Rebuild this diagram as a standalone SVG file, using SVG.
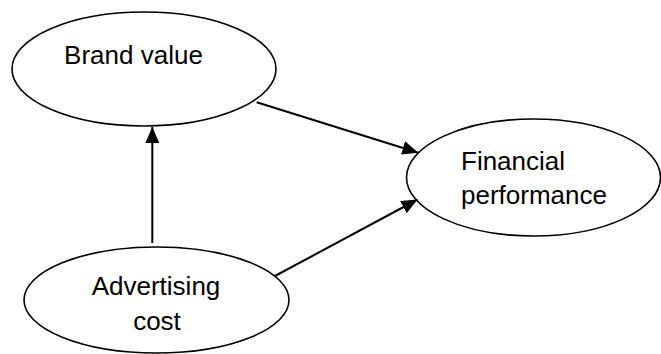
<svg xmlns="http://www.w3.org/2000/svg" width="661" height="354" viewBox="0 0 661 354">
  <defs>
    <marker id="arrow" markerUnits="userSpaceOnUse" markerWidth="17" markerHeight="15" refX="16" refY="7" orient="auto">
      <path d="M0,0 L16,7 L0,14 z" fill="#000"/>
    </marker>
    <style>
      .node ellipse { fill: #fff; stroke: #000; stroke-width: 1.6; }
      .node text { font-family: "Liberation Sans", Arial, sans-serif; font-size: 26px; fill: #000; }
      #connectors line { stroke: #000; stroke-width: 2; marker-end: url(#arrow); }
    </style>
  </defs>
  <rect width="661" height="354" fill="#fff"/>

  <g id="brand-value" class="node">
    <ellipse cx="144" cy="69" rx="132" ry="57"/>
    <text x="133.5" y="64" text-anchor="middle">Brand value</text>
  </g>

  <g id="financial-performance" class="node">
    <ellipse cx="533.5" cy="177.5" rx="127" ry="58.5"/>
    <text x="461" y="170">Financial</text>
    <text x="461" y="204">performance</text>
  </g>

  <g id="advertising-cost" class="node">
    <ellipse cx="156.5" cy="300" rx="132.5" ry="53"/>
    <text x="156" y="295" text-anchor="middle">Advertising</text>
    <text x="157" y="330" text-anchor="middle">cost</text>
  </g>

  <g id="connectors">
    <line x1="152.3" y1="243" x2="152.3" y2="127"/>
    <line x1="256.7" y1="102.3" x2="418.3" y2="152.7"/>
    <line x1="275" y1="276" x2="417.5" y2="199.5"/>
  </g>
</svg>
